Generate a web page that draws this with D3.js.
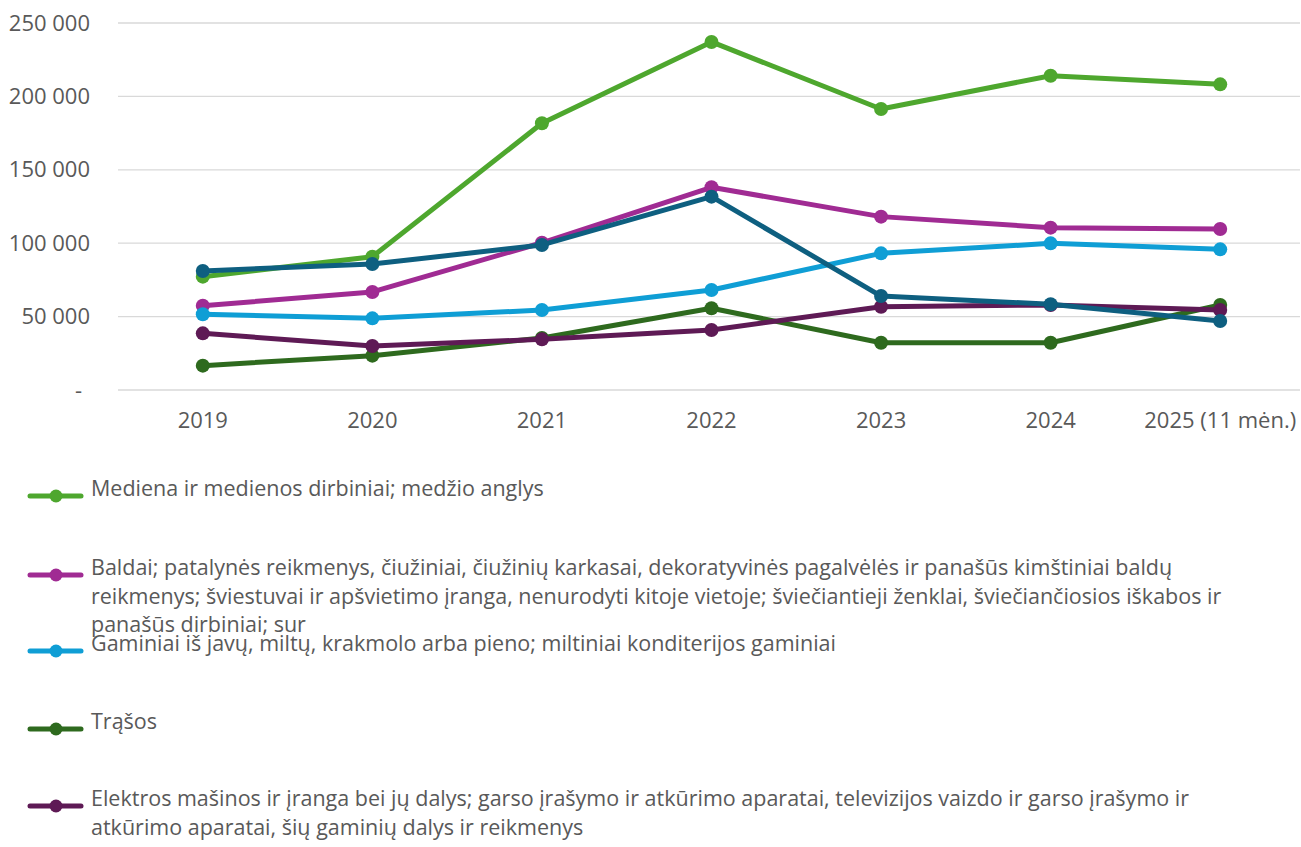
<!DOCTYPE html>
<html>
<head>
<meta charset="utf-8">
<script src="https://cdn.jsdelivr.net/npm/d3@7"></script>
<style>
  html, body { margin: 0; padding: 0; background: #fff; }
  svg { display: block; }
  text { font-family: "Open Sans", "Noto Sans", sans-serif; fill: #595959; }
</style>
</head>
<body>
<svg id="chart" width="1301" height="847"></svg>
<script>
const categories = ["2019", "2020", "2021", "2022", "2023", "2024", "2025 (11 mėn.)"];
const yTicks = [0, 50000, 100000, 150000, 200000, 250000];

const seriesNames = [
  "Mediena ir medienos dirbiniai; medžio anglys",
  "Baldai; patalynės reikmenys, čiužiniai, čiužinių karkasai, dekoratyvinės pagalvėlės ir panašūs kimštiniai baldų reikmenys; šviestuvai ir apšvietimo įranga, nenurodyti kitoje vietoje; šviečiantieji ženklai, šviečiančiosios iškabos ir panašūs dirbiniai; sur",
  "Gaminiai iš javų, miltų, krakmolo arba pieno; miltiniai konditerijos gaminiai",
  "Trąšos",
  "Elektros mašinos ir įranga bei jų dalys; garso įrašymo ir atkūrimo aparatai, televizijos vaizdo ir garso įrašymo ir atkūrimo aparatai, šių gaminių dalys ir reikmenys",
  ""
];
const seriesColors = ["#4EA72E", "#A02B93", "#0F9ED5", "#2E6A1E", "#5E1A55", "#0E5F80"];

const mediena   = [77200, 90800, 181700, 237100, 191400, 214100, 208200];
const baldai    = [57400, 66800, 100300, 138100, 118100, 110600, 109700];
const gaminiai  = [51600, 48800, 54500, 68100, 93100, 99900, 95800];
const trasos    = [16600, 23400, 35400, 55700, 32200, 32200, 57900];
const elektros  = [38600, 30000, 34500, 40900, 56700, 57900, 54500];
const tamsiai   = [81100, 85800, 98800, 131700, 64000, 58400, 47000];

const seriesValues = [mediena, baldai, gaminiai, trasos, elektros, tamsiai];
const legendSeries = [0, 1, 2, 3, 4];

const svg = d3.select("#chart");
const plotLeft = 118, plotRight = 1305, plotTop = 23, plotBottom = 390;

const x = d3.scaleBand().domain(categories).range([plotLeft, plotRight]);
const y = d3.scaleLinear().domain([0, 250000]).range([plotBottom, plotTop]);

// gridlines
svg.append("g").selectAll("line").data(yTicks).join("line")
  .attr("x1", plotLeft).attr("x2", 1300)
  .attr("y1", d => y(d)).attr("y2", d => y(d))
  .attr("stroke", "#d9d9d9").attr("stroke-width", 1.3);

// y axis labels
const fmt = v => v === 0 ? "-" : d3.format(",")(v).replace(/,/g, " ");
const yAxis = d3.axisLeft(y).tickValues(yTicks).tickFormat(fmt).tickSize(0).tickPadding(0);
const gy = svg.append("g").attr("transform", `translate(90,0)`).call(yAxis);
gy.select(".domain").remove();
gy.selectAll("text")
  .attr("font-size", "22px").attr("fill", "#595959")
  .attr("font-family", "\"Open Sans\", sans-serif")
  .attr("dx", d => d === 0 ? -8 : 0);

// x axis labels
const xAxis = d3.axisBottom(x).tickSize(0).tickPadding(0);
const gx = svg.append("g").attr("transform", `translate(0,420)`).call(xAxis);
gx.select(".domain").remove();
gx.selectAll("text")
  .attr("font-size", "22px").attr("fill", "#595959")
  .attr("font-family", "\"Open Sans\", sans-serif")
  .attr("dy", "0.35em").attr("y", 0);

// lines
const line = d3.line().x((d, i) => x(categories[i]) + x.bandwidth() / 2).y(d => y(d));
seriesValues.forEach((vals, si) => {
  const g = svg.append("g");
  g.append("path").datum(vals)
    .attr("d", line).attr("fill", "none")
    .attr("stroke", seriesColors[si]).attr("stroke-width", 5)
    .attr("stroke-linejoin", "round").attr("stroke-linecap", "round");
  g.selectAll("circle").data(vals).join("circle")
    .attr("cx", (d, i) => x(categories[i]) + x.bandwidth() / 2)
    .attr("cy", d => y(d))
    .attr("r", 7)
    .attr("fill", seriesColors[si]);
});

// legend
const legendY = [496, 575, 651, 729, 806];
const maxTextWidth = 1180;
const lineH = 28.5;
legendSeries.forEach((si, k) => {
  const g = svg.append("g").attr("transform", `translate(0,${legendY[k]})`);
  g.append("line").attr("x1", 30).attr("x2", 81).attr("y1", 0).attr("y2", 0)
    .attr("stroke", seriesColors[si]).attr("stroke-width", 5).attr("stroke-linecap", "round");
  g.append("circle").attr("cx", 56).attr("cy", 0).attr("r", 6.5).attr("fill", seriesColors[si]);
  const t = g.append("text").attr("x", 91).attr("y", 0).attr("dy", "0.35em")
    .attr("font-size", "21.5px");
  const words = seriesNames[si].split(" ");
  let lineWords = [];
  let tspan = t.append("tspan").attr("x", 91).attr("dy", 0);
  words.forEach(w => {
    lineWords.push(w);
    tspan.text(lineWords.join(" "));
    if (tspan.node().getComputedTextLength() > maxTextWidth && lineWords.length > 1) {
      lineWords.pop();
      tspan.text(lineWords.join(" "));
      lineWords = [w];
      tspan = t.append("tspan").attr("x", 91).attr("dy", lineH).text(w);
    }
  });
});
</script>
</body>
</html>
